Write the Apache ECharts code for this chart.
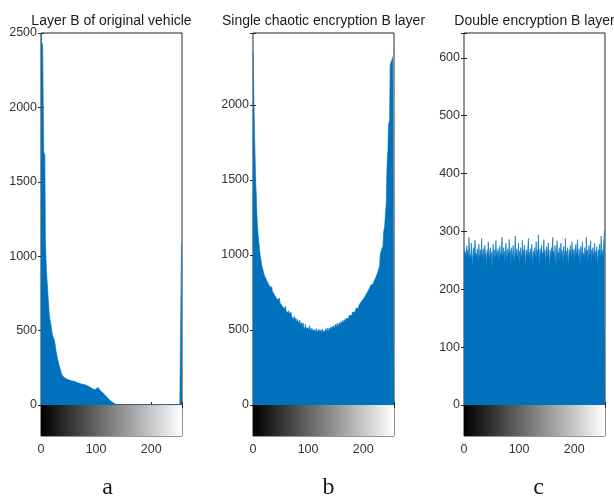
<!DOCTYPE html>
<html>
<head>
<meta charset="utf-8">
<title>B layer histograms</title>
<script src="https://cdn.jsdelivr.net/npm/echarts@6/dist/echarts.min.js"></script>
<style>
    html, body { margin: 0; padding: 0; background: #fff; }
    #main { width: 614px; height: 500px; }
</style>
</head>
<body>
<div id="main"></div>
<script>
// histogram counts, 256 grey levels each
var titles = ['Layer B of original vehicle', 'Single chaotic encryption B layer', 'Double encryption B layer'];
var letters = ['a', 'b', 'c'];

var histA = [
    2500, 2440, 2430, 2420, 2410, 1700, 1690, 1680, 1100, 1000, 900, 840, 780, 720, 670, 610,
    580, 560, 540, 510, 490, 470, 455, 445, 440, 430, 400, 370, 350, 330, 310, 295,
    280, 265, 252, 240, 225, 215, 205, 198, 192, 188, 184, 181, 178, 176, 174, 172,
    170, 169, 168, 167, 166, 163, 165, 162, 160, 161, 158, 157, 159, 155, 154, 156,
    152, 150, 151, 148, 149, 146, 145, 147, 143, 142, 140, 141, 138, 136, 137, 134,
    133, 130, 131, 128, 126, 124, 125, 121, 119, 120, 116, 114, 112, 110, 108, 106,
    104, 103, 106, 110, 114, 118, 120, 117, 113, 108, 104, 99, 95, 92, 88, 85,
    82, 78, 75, 72, 68, 64, 60, 56, 52, 48, 44, 40, 36, 32, 28, 25,
    22, 19, 16, 14, 12, 10, 8, 6, 5, 4, 3, 2, 1, 0, 0, 0,
    0, 0, 0, 0, 0, 0, 0, 0, 0, 0, 0, 0, 0, 0, 0, 0,
    0, 0, 0, 0, 0, 0, 0, 0, 0, 0, 0, 0, 0, 0, 0, 0,
    0, 0, 0, 0, 0, 0, 0, 0, 0, 0, 0, 0, 0, 0, 0, 0,
    0, 0, 0, 0, 0, 0, 0, 0, 0, 0, 0, 0, 0, 0, 0, 0,
    0, 0, 0, 0, 0, 0, 0, 0, 0, 0, 0, 0, 0, 0, 0, 0,
    0, 0, 0, 0, 0, 0, 0, 0, 0, 0, 0, 0, 0, 0, 0, 0,
    0, 0, 0, 0, 0, 0, 0, 0, 0, 0, 0, 0, 0, 0, 0, 1080
];

var histB = [
    2350, 2350, 2345, 1780, 1775, 1480, 1400, 1280, 1200, 1150, 1110, 1070, 1030, 1000, 975, 950,
    930, 915, 900, 885, 875, 862, 850, 845, 832, 828, 815, 822, 806, 798, 812, 790,
    785, 772, 790, 760, 752, 768, 740, 735, 750, 722, 718, 735, 702, 710, 698, 690,
    712, 680, 676, 668, 690, 660, 655, 650, 672, 640, 636, 660, 628, 622, 640, 615,
    612, 630, 605, 600, 596, 620, 590, 585, 598, 575, 572, 590, 566, 562, 580, 555,
    552, 570, 545, 548, 540, 565, 536, 532, 550, 528, 525, 548, 520, 518, 505, 540,
    512, 508, 522, 500, 515, 498, 505, 530, 495, 502, 490, 512, 498, 488, 505, 492,
    500, 485, 495, 510, 488, 495, 482, 498, 505, 486, 494, 500, 484, 492, 506, 490,
    498, 486, 502, 494, 510, 488, 500, 496, 515, 492, 505, 512, 498, 520, 505, 510,
    525, 508, 515, 530, 512, 520, 538, 518, 528, 545, 522, 535, 528, 550, 536, 530,
    555, 540, 548, 565, 546, 555, 570, 560, 552, 578, 565, 572, 590, 575, 582, 598,
    585, 592, 610, 596, 602, 620, 608, 615, 630, 618, 626, 645, 632, 640, 655, 645,
    652, 670, 658, 668, 685, 675, 682, 700, 690, 698, 715, 708, 720, 735, 728, 740,
    755, 748, 762, 775, 770, 785, 800, 795, 800, 810, 805, 820, 830, 835, 845, 852,
    860, 870, 880, 890, 900, 915, 930, 1000, 1020, 1030, 1040, 1050, 1060, 1150, 1170, 1190,
    1250, 1300, 1350, 1550, 1650, 1700, 1870, 1880, 1900, 2260, 2280, 2290, 2300, 2310, 2320, 2330
];

var histC = [
    270, 262, 258, 265, 255, 275, 260, 268, 252, 290, 262, 258, 250, 280, 264, 238,
    260, 272, 255, 266, 285, 258, 262, 250, 270, 264, 245, 278, 260, 256, 268, 252,
    288, 262, 255, 270, 248, 265, 276, 258, 262, 240, 268, 255, 282, 260, 250, 266,
    272, 258, 264, 236, 262, 278, 256, 268, 250, 262, 284, 258, 266, 252, 270, 260,
    246, 275, 262, 258, 268, 290, 255, 262, 272, 244, 266, 258, 280, 262, 250, 270,
    264, 256, 286, 260, 268, 238, 272, 262, 255, 276, 260, 248, 268, 292, 258, 262,
    270, 254, 264, 280, 242, 266, 258, 272, 260, 250, 285, 262, 268, 254, 276, 260,
    236, 268, 262, 258, 274, 288, 256, 264, 250, 270, 262, 278, 258, 244, 266, 260,
    272, 255, 262, 282, 250, 268, 260, 294, 262, 240, 270, 258, 266, 276, 252, 264,
    260, 286, 258, 268, 245, 262, 274, 256, 266, 280, 260, 235, 268, 262, 255, 272,
    264, 290, 258, 266, 250, 276, 262, 240, 270, 284, 256, 264, 260, 272, 248, 266,
    280, 258, 268, 262, 244, 274, 262, 255, 288, 260, 266, 250, 272, 262, 238, 268,
    258, 276, 264, 252, 282, 262, 268, 256, 270, 246, 264, 278, 258, 266, 286, 260,
    254, 270, 262, 240, 274, 260, 266, 282, 256, 262, 250, 272, 264, 258, 290, 262,
    268, 248, 264, 276, 258, 262, 284, 244, 268, 260, 272, 256, 262, 280, 250, 266,
    260, 274, 258, 238, 268, 262, 278, 256, 264, 292, 260, 268, 254, 272, 285, 302
];

var hists = [histA, histB, histC];
var yMax = [2500, 2480, 643];
var yStep = [500, 500, 100];
var xMax = 256;
var xStep = 100;

// layout
var panelLeft = [41, 253, 464];
var plotTop = 33, plotW = 141, plotH = 372, stripH = 31;
var axisColor = '#262626';
var labelFont = { fontSize: 12.5, color: '#333', fontFamily: 'Liberation Sans' };

// each bin drawn as a step from i to i+1
function toSteps(h) {
    var out = [];
    for (var i = 0; i < h.length; i++) {
        out.push([i, h[i]]);
    }
    out.push([h.length, h[h.length - 1]]);
    return out;
}

// plain numbers, and nothing at the odd axis end
function stepLabel(step) {
    return function (v) {
        return v % step === 0 ? String(v) : '';
    };
}

var grid = [], xAxis = [], yAxis = [], series = [], graphic = [];

for (var p = 0; p < 3; p++) {
    var L = panelLeft[p];
    grid.push({ left: L, top: plotTop, width: plotW, height: plotH, show: true, borderColor: axisColor, borderWidth: 1 });
    grid.push({ left: L, top: plotTop + plotH, width: plotW, height: stripH, show: true, borderColor: axisColor, borderWidth: 1 });

    var tickIn = { inside: true, length: 3, lineStyle: { color: axisColor } };

    xAxis.push({ gridIndex: 2 * p, type: 'value', min: 0, max: xMax, interval: xStep, position: 'bottom',
        axisLine: { show: false }, axisTick: tickIn, axisLabel: { show: false }, splitLine: { show: false } });
    xAxis.push({ gridIndex: 2 * p, type: 'value', min: 0, max: xMax, interval: xStep, position: 'top',
        axisLine: { show: false }, axisTick: tickIn, axisLabel: { show: false }, splitLine: { show: false } });
    xAxis.push({ gridIndex: 2 * p + 1, type: 'value', min: 0, max: xMax, interval: xStep, position: 'bottom',
        axisLine: { show: false }, axisTick: { show: false }, splitLine: { show: false },
        axisLabel: Object.assign({ margin: 7, formatter: stepLabel(xStep) }, labelFont) });

    yAxis.push({ gridIndex: 2 * p, type: 'value', min: 0, max: yMax[p], interval: yStep[p], position: 'left',
        axisLine: { show: false }, axisTick: tickIn, splitLine: { show: false },
        axisLabel: Object.assign({ margin: 4, formatter: stepLabel(yStep[p]) }, labelFont) });
    yAxis.push({ gridIndex: 2 * p, type: 'value', min: 0, max: yMax[p], interval: yStep[p], position: 'right',
        axisLine: { show: false }, axisTick: tickIn, axisLabel: { show: false }, splitLine: { show: false } });
    yAxis.push({ gridIndex: 2 * p + 1, type: 'value', min: 0, max: 1, show: false });

    series.push({
        type: 'line', xAxisIndex: 3 * p, yAxisIndex: 3 * p,
        data: toSteps(hists[p]), step: 'end', symbol: 'none', silent: true,
        lineStyle: { width: 0.6, color: '#0072BD' },
        areaStyle: { color: '#0072BD', opacity: 1 }
    });
    // grey colour strip under the histogram
    series.push({
        type: 'line', xAxisIndex: 3 * p + 2, yAxisIndex: 3 * p + 2,
        data: [[0, 1], [xMax, 1]], symbol: 'none', silent: true,
        lineStyle: { width: 0 },
        areaStyle: { opacity: 1, color: { type: 'linear', x: 0, y: 0, x2: 1, y2: 0,
            colorStops: [{ offset: 0, color: '#000' }, { offset: 1, color: '#fff' }] } }
    });

    graphic.push({ type: 'text', x: L + plotW / 2, y: 21,
        style: { text: titles[p], font: '14px "Liberation Sans"', fill: '#1a1a1a',
            textAlign: 'center', textVerticalAlign: 'middle', align: 'center', verticalAlign: 'middle' } });
    graphic.push({ type: 'text', x: L + plotW / 2 + [-4, 5, 4][p], y: 488,
        style: { text: letters[p], font: '24px "Liberation Serif"', fill: '#1a1a1a',
            textAlign: 'center', textVerticalAlign: 'middle', align: 'center', verticalAlign: 'middle' } });
}

var myChart = echarts.init(document.getElementById('main'));
myChart.setOption({
    animation: false,
    grid: grid,
    xAxis: xAxis,
    yAxis: yAxis,
    series: series,
    graphic: graphic
});
</script>
</body>
</html>
